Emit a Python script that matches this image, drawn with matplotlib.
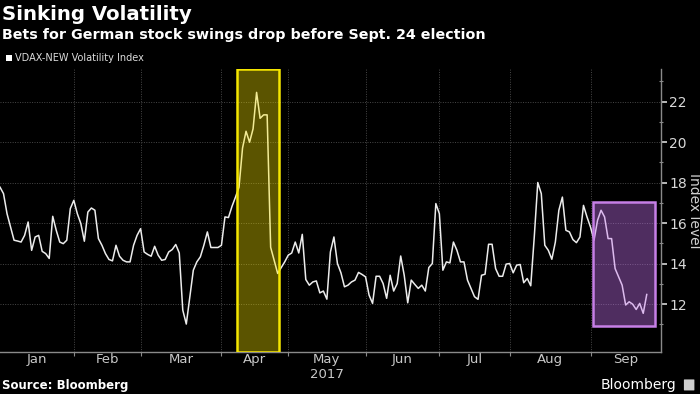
import numpy as np
import matplotlib
matplotlib.use("Agg")
import matplotlib.pyplot as plt
from matplotlib.patches import Rectangle, FancyBboxPatch

# VDAX-NEW daily closes, 2017
vdax = [
    17.77, 17.45, 16.46, 15.80, 15.15, 15.11, 15.06, 15.39, 16.05, 14.65,
    15.31, 15.39, 14.60, 14.49, 14.25, 16.33, 15.64, 15.06, 14.98, 15.15,
    16.71, 17.12, 16.46, 15.97, 15.10, 16.54, 16.74, 16.63, 15.23, 14.90,
    14.49, 14.20, 14.13, 14.90, 14.36, 14.16, 14.08, 14.08, 14.90, 15.39,
    15.72, 14.57, 14.45, 14.36, 14.85, 14.41, 14.16, 14.20, 14.57, 14.69,
    14.94, 14.52, 11.70, 11.01, 12.36, 13.67, 14.08, 14.33, 14.90, 15.56,
    14.79, 14.79, 14.79, 14.90, 16.30, 16.27, 16.82, 17.28, 17.77, 19.70,
    20.53, 19.99, 20.65, 22.45, 21.17, 21.34, 21.34, 14.80, 14.16, 13.51,
    13.80, 14.08, 14.41, 14.52, 15.06, 14.52, 15.44, 13.21, 12.93, 13.09,
    13.14, 12.55, 12.64, 12.24, 14.57, 15.31, 14.00, 13.54, 12.85, 12.93,
    13.09, 13.18, 13.56, 13.46, 13.34, 12.44, 12.03, 13.37, 13.37, 13.01,
    12.28, 13.42, 12.64, 13.01, 14.37, 13.42, 12.06, 13.18, 12.97, 12.77,
    12.93, 12.64, 13.80, 14.00, 16.96, 16.46, 13.67, 14.08, 14.03, 15.06,
    14.65, 14.08, 14.08, 13.18, 12.77, 12.36, 12.23, 13.42, 13.47, 14.95,
    14.95, 13.75, 13.37, 13.37, 13.97, 14.00, 13.54, 13.92, 13.95, 13.05,
    13.26, 12.90, 15.31, 18.00, 17.45, 14.90, 14.65, 14.21, 15.06, 16.63,
    17.28, 15.64, 15.56, 15.18, 15.03, 15.31, 16.87, 16.30, 15.80, 15.15,
    16.13, 16.63, 16.30, 15.23, 15.23, 13.75, 13.34, 12.93, 11.95, 12.11,
    11.99, 11.73, 12.03, 11.54, 12.47,
]

months = ["Jan", "Feb", "Mar", "Apr", "May", "Jun", "Jul", "Aug", "Sep"]
days_in_month = [21, 19, 23, 19, 22, 21, 20, 23]   # trading days Jan..Aug as drawn
y_ticks = [12, 14, 16, 18, 20, 22]

# highlighted periods (trading-day index)
spike_period = (67.4, 79.3)
election_period = (168.6, 186.4)
election_range = (10.9, 17.05)

x_end = 188.0
x = np.arange(len(vdax))
bounds = np.concatenate([[0], np.cumsum(days_in_month), [x_end]])
month_mid = (bounds[:-1] + bounds[1:]) / 2

plt.rcParams['font.family'] = ['DejaVu Sans']
fig = plt.figure(figsize=(7, 3.94), dpi=100, facecolor="black")
ax = fig.add_axes([0.0, 0.1066, 0.944, 0.718])
ax.set_facecolor("black")

ax.plot(x, vdax, color="#ececec", lw=1.1, zorder=3)

# yellow: the April spike
ax.axvspan(spike_period[0], spike_period[1], facecolor=(1.0, 0.92, 0.0, 0.36),
           edgecolor="#f5e600", lw=1.8, zorder=4)
# purple: run-up to the election
ax.add_patch(Rectangle((election_period[0], election_range[0]),
                       election_period[1] - election_period[0],
                       election_range[1] - election_range[0],
                       facecolor=(0.78, 0.45, 0.95, 0.40),
                       edgecolor="#c67fe6", lw=1.8, zorder=4))

ax.set_xlim(0, x_end)
ax.set_ylim(9.63, 23.6)

# grid
for b in bounds[1:-1]:
    ax.axvline(b, color="#474747", lw=0.7, ls=(0, (1, 1.5)), zorder=1)
for t in y_ticks:
    ax.axhline(t, color="#474747", lw=0.7, ls=(0, (1, 1.5)), zorder=1)

# axes
for s in ["top", "left"]:
    ax.spines[s].set_visible(False)
ax.spines["right"].set_color("#8a8a8a")
ax.spines["bottom"].set_color("#8a8a8a")
ax.spines["right"].set_linewidth(1.0)
ax.spines["bottom"].set_linewidth(1.0)

ax.yaxis.tick_right()
ax.set_yticks(y_ticks)
ax.set_yticks([11, 13, 15, 17, 19, 21, 23], minor=True)
ax.tick_params(axis="y", which="major", colors="#d8d8d8", labelsize=10,
               length=4, width=1.2, direction="out", pad=2)
ax.tick_params(axis="y", which="minor", color="#8a8a8a", length=3, width=0.8,
               direction="inout")

ax.set_xticks(bounds[1:-1])
ax.set_xticks(month_mid, minor=True)
ax.set_xticklabels(months, minor=True)
ax.tick_params(axis="x", which="major", color="#8a8a8a", length=3, labelbottom=False)
ax.tick_params(axis="x", which="minor", length=0, colors="#c8c8c8", labelsize=9.5, pad=1)

ax.text(month_mid[4], -0.055, "2017", transform=ax.get_xaxis_transform(),
        ha="center", va="top", color="#c8c8c8", fontsize=9.5)

ax.yaxis.set_label_position("right")
ax.set_ylabel("Index level", color="#cfcfcf", fontsize=10, rotation=270, labelpad=10)

# titles
fig.text(0.003, 0.962, "Sinking Volatility", color="white", fontsize=14.2,
         fontweight="bold", ha="left", va="center")
fig.text(0.003, 0.91, "Bets for German stock swings drop before Sept. 24 election",
         color="white", fontsize=10.3, fontweight="bold", ha="left", va="center")

# legend
fig.patches.append(Rectangle((0.008, 0.845), 0.009, 0.016, transform=fig.transFigure,
                             facecolor="white", edgecolor="none"))
fig.text(0.021, 0.853, "VDAX-NEW Volatility Index", color="#dcdcdc", fontsize=7,
         ha="left", va="center")

# footer
fig.text(0.003, 0.022, "Source: Bloomberg", color="white", fontsize=8.5,
         fontweight="bold", ha="left", va="center")
fig.text(0.966, 0.024, "Bloomberg", color="white", fontsize=10,
         ha="right", va="center")
fig.patches.append(FancyBboxPatch((0.978, 0.01), 0.013, 0.026, transform=fig.transFigure,
                                  boxstyle="round,pad=0.001", facecolor="#cfcfcf",
                                  edgecolor="none"))

fig.savefig("out.png", dpi=100, facecolor="black")
